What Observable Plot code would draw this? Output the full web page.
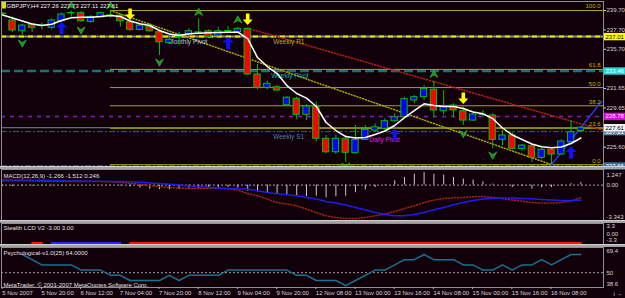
<!DOCTYPE html>
<html><head><meta charset="utf-8">
<script src="https://cdn.jsdelivr.net/npm/d3@7"></script>
<script src="https://cdn.jsdelivr.net/npm/@observablehq/plot@0.6"></script>
<style>
html,body{margin:0;padding:0;background:#110009;}
#chart{position:relative;width:625px;height:298px;background:#110009;overflow:hidden;font-family:"Liberation Sans",Arial,sans-serif;}
.panel{position:absolute;left:0;width:625px;}
.panel svg{display:block;}
.sep{position:absolute;left:0;width:625px;background:#a4a4a4;border-top:1px solid #d0d0d0;box-sizing:border-box;}
</style></head><body>
<div id="chart"></div>
<script>
// ---------------- DATA ----------------
const symbolName = "GBPJPY,H4";
const barOpen  = [239.34,238.67,237.56,238.26,238.12,237.92,238.60,239.40,239.42,238.53,239.01,239.16,239.18,238.49,237.71,238.05,237.46,236.33,236.95,237.15,237.45,237.56,237.09,237.54,237.46,237.81,233.10,231.73,231.79,229.93,230.59,228.94,229.80,226.47,225.08,226.47,224.98,226.36,227.32,227.50,228.28,228.69,230.42,230.76,231.52,229.31,229.90,229.31,228.35,228.92,228.87,226.36,226.81,225.43,225.70,224.51,225.33,224.85,226.12,227.26];
const barHigh  = [239.50,239.01,238.26,238.36,238.39,238.84,239.42,239.63,239.60,239.18,239.52,239.70,239.36,238.67,238.31,238.33,237.64,236.88,237.46,237.81,238.84,237.71,237.92,238.05,237.98,237.87,234.13,232.41,231.93,230.83,230.76,230.00,230.24,226.81,226.81,226.81,227.84,227.84,228.01,228.53,229.04,230.76,230.93,231.96,232.41,231.45,230.08,229.73,229.11,229.39,229.04,227.32,227.15,225.88,225.88,225.50,225.43,226.36,228.35,227.73];
const barLow   = [239.20,237.46,237.02,237.43,237.71,237.71,238.49,239.01,238.49,238.39,238.95,238.95,237.98,237.56,237.59,237.46,235.06,236.19,236.09,237.02,237.22,236.88,236.95,237.30,237.40,233.00,231.52,231.52,231.38,229.87,228.43,228.35,226.12,224.92,224.85,224.05,224.92,226.29,227.15,227.32,228.18,228.53,230.08,230.42,228.63,228.94,228.69,227.84,228.28,228.69,225.43,225.77,225.33,225.19,224.05,224.30,223.81,224.74,225.95,227.11];
const barClose = [239.38,237.64,238.15,237.92,238.15,238.67,239.29,239.44,238.60,239.01,239.42,239.20,238.60,237.71,238.15,237.56,236.43,236.68,237.19,237.56,237.41,236.95,237.56,237.59,237.81,233.10,231.73,232.14,231.45,230.70,228.94,229.80,226.47,225.08,226.47,225.02,226.36,227.39,227.66,228.28,228.69,230.55,230.76,231.62,229.39,229.80,229.39,228.35,228.97,228.96,226.36,226.81,225.43,225.77,224.51,225.33,224.85,226.19,227.15,227.61];
const maValues = [239.24,238.93,238.62,238.31,238.15,238.28,238.67,238.96,239.01,239.01,239.08,239.18,239.08,238.62,238.34,238.15,237.64,237.28,237.12,237.30,237.36,237.40,237.43,237.46,237.46,236.81,234.85,233.92,233.20,231.96,231.14,230.67,229.80,228.15,227.32,226.70,226.55,226.60,226.91,227.27,227.84,228.66,229.38,230.08,229.90,229.80,229.80,229.59,229.23,229.04,228.56,227.58,226.86,226.39,225.93,225.64,225.54,225.62,225.98,226.55];

const macdHist   = [-0.15,-0.15,-0.12,-0.12,-0.10,-0.08,-0.05,-0.03,-0.02,-0.02,-0.03,-0.05,-0.10,-0.20,-0.30,-0.40,-0.45,-0.45,-0.45,-0.40,-0.35,-0.30,-0.30,-0.25,-0.30,-0.60,-0.70,-0.86,-0.93,-1.03,-1.10,-1.15,-1.10,-1.27,-1.17,-1.10,-0.76,-0.48,-0.24,0.05,0.43,0.77,1.10,1.247,1.10,1.00,0.77,0.60,0.50,0.33,0.10,0.00,-0.24,-0.14,-0.41,-0.28,-0.24,-0.10,0.14,0.246];
const macdMain   = [0.43,0.43,0.43,0.42,0.38,0.36,0.36,0.36,0.36,0.36,0.35,0.33,0.28,0.18,0.08,-0.05,-0.15,-0.24,-0.30,-0.34,-0.34,-0.34,-0.34,-0.36,-0.50,-0.85,-1.05,-1.40,-1.74,-1.90,-2.07,-2.40,-2.74,-3.07,-3.24,-3.34,-3.34,-3.24,-3.07,-2.90,-2.64,-2.34,-2.07,-1.74,-1.50,-1.34,-1.27,-1.24,-1.17,-1.14,-1.24,-1.34,-1.50,-1.60,-1.74,-1.80,-1.80,-1.74,-1.57,-1.27];
const macdSignal = [0.50,0.50,0.50,0.49,0.48,0.46,0.44,0.42,0.40,0.39,0.38,0.37,0.35,0.33,0.28,0.22,0.15,0.08,0.00,-0.08,-0.15,-0.22,-0.28,-0.34,-0.36,-0.42,-0.57,-0.74,-0.87,-0.97,-1.07,-1.24,-1.40,-1.64,-1.80,-2.00,-2.24,-2.47,-2.74,-2.94,-3.07,-3.07,-2.94,-2.74,-2.47,-2.24,-1.97,-1.74,-1.54,-1.40,-1.34,-1.30,-1.30,-1.34,-1.37,-1.44,-1.50,-1.54,-1.57,-1.51];
const stealthState = [null,null,null,-1,-1,1,1,1,1,1,1,1,1,-1,-1,-1,-1,-1,-1,-1,-1,-1,-1,-1,-1,-1,-1,-1,-1,-1,-1,-1,-1,-1,-1,-1,-1,-1,-1,-1,-1,-1,-1,-1,-1,-1,-1,-1,-1,-1,-1,-1,-1,-1,-1,-1,-1,-1,-1,-1];
const stealthLevel = -3;
const psychValues = [null,null,64,60,56,56,56,56,52,52,52,48,48,44,44,44,44,48,44,48,48,48,48,52,52,52,52,52,52,52,48,48,44,44,44,40,44,48,52,52,56,60,60,64,60,60,60,56,56,52,52,56,52,56,56,60,56,60,64,64];

const timeLabels = ["5 Nov 2007","5 Nov 20:00","6 Nov 12:00","7 Nov 04:00","7 Nov 20:00","8 Nov 12:00","9 Nov 04:00","9 Nov 20:00","12 Nov 08:00","13 Nov 00:00","13 Nov 16:00","14 Nov 08:00","15 Nov 00:00","15 Nov 16:00","16 Nov 08:00"];
const timeLabelBars = [0,4,8,12,16,20,24,28,32,36,40,44,48,52,56];
const priceTicks = [239.70,237.70,235.70,231.65,229.65,225.60];

const monthlyPivot = 237.01, weeklyR1 = 237.01, weeklyPivot = 233.46, dailyPivot = 228.78;
const bidPrice = 227.61, weeklyS1 = 227.21, weeklyS2 = 223.66;
const fibHigh = 239.70, fibLow = 223.80, fibAnchorBars = [11, 56];
const fibLevels = [0, 23.6, 38.2, 50, 61.8, 100];
const redTrendBars = [25, 61.3], redTrendPrices = [237.87, 227.34];
const blueTrendBars = [56, 61.1], blueTrendPrices = [223.80, 230.31];

const upArrowBars = [6, 23, 40, 58], upArrowPrices = [237.90, 236.35, 226.91, 225.05];
const downArrowBars = [13, 25, 47], downArrowPrices = [239.34, 238.82, 230.67];
const fractalUpBars = [7, 11, 20, 24, 44], fractalUpPrices = [240.22, 240.22, 239.55, 238.77, 233.15];
const fractalDownBars = [2, 8, 16, 35, 47, 50], fractalDownPrices = [236.30, 237.64, 234.34, 223.61, 226.96, 224.74];

const pivotLabelNames = ["Monthly Pivot", "Weekly R1", "Weekly Pivot", "Weekly S1", "Daily Pivot"];
const pivotLabelBars = [16.9, 27.6, 27.4, 27.6, 37.4];
const pivotLabelPrices = [236.50, 236.50, 233.00, 226.70, 226.39];

const titleText = `${symbolName} ${barOpen[59].toFixed(2)} ${barHigh[59].toFixed(2)} ${barLow[59].toFixed(2)} ${barClose[59].toFixed(2)}`;
const macdTitle = "MACD(12,26,9) -1.266 -1.512 0.246";
const stealthTitle = "Stealth LCD V2 -3.00 3.00";
const psychTitle = "Psychological-v1.0(25) 64.0000";
const copyrightText = "MetaTrader, \u00a9 2001-2007 MetaQuotes Software Corp.";

// ---------------- HELPERS ----------------
const xDomain = [-0.122, 61.306];
const FONT = "'Liberation Sans', Arial, sans-serif";
const baseStyle = {background: "transparent", color: "#d8d8d8", fontFamily: FONT, fontSize: "6px", overflow: "visible"};
const series = vals => vals.map((v, i) => ({i, v})).filter(d => d.v != null);
const pts = (bars, prices) => bars.map((b, j) => ({i: b, v: prices[j]}));
const fibPrice = f => fibLow + f / 100 * (fibHigh - fibLow);

const upArrowSym = {draw(c, size) { const s = Math.sqrt(size / Math.PI) / 5;
  c.moveTo(0, -6*s); c.lineTo(5.5*s, -0.5*s); c.lineTo(2*s, -0.5*s); c.lineTo(2*s, 6*s);
  c.lineTo(-2*s, 6*s); c.lineTo(-2*s, -0.5*s); c.lineTo(-5.5*s, -0.5*s); c.closePath(); }};
const downArrowSym = {draw(c, size) { const s = Math.sqrt(size / Math.PI) / 5;
  c.moveTo(0, 6*s); c.lineTo(5*s, 0.5*s); c.lineTo(1.8*s, 0.5*s); c.lineTo(1.8*s, -5.5*s);
  c.lineTo(-1.8*s, -5.5*s); c.lineTo(-1.8*s, 0.5*s); c.lineTo(-5*s, 0.5*s); c.closePath(); }};
const chevUpSym = {draw(c, size) { const s = Math.sqrt(size / Math.PI) / 5;
  c.moveTo(0, -3.8*s); c.lineTo(4*s, 3.5*s); c.lineTo(0, 1*s); c.lineTo(-4*s, 3.5*s); c.closePath(); }};
const chevDownSym = {draw(c, size) { const s = Math.sqrt(size / Math.PI) / 5;
  c.moveTo(0, 3.8*s); c.lineTo(4*s, -3.5*s); c.lineTo(0, -1*s); c.lineTo(-4*s, -3.5*s); c.closePath(); }};
const boxSym = {draw(c) { c.rect(-11, -3.7, 22, 7.4); }};
const iconSym = {draw(c) { c.rect(-2.5, -3.5, 5, 7); }};

function priceBox(v, bg, fg) {
  return [
    Plot.dot([v], {y: d => d, frameAnchor: "right", dx: 11, symbol: boxSym, fill: bg, r: 5}),
    Plot.text([v], {y: d => d, frameAnchor: "right", dx: 2, textAnchor: "start", text: d => d.toFixed(2), fill: fg, fontSize: 6})
  ];
}

const chart = document.getElementById("chart");
function place(el, top) { const d = document.createElement("div"); d.className = "panel"; d.style.top = top + "px"; d.appendChild(el); chart.appendChild(d); }
function sep(top, h) { const d = document.createElement("div"); d.className = "sep"; d.style.top = top + "px"; d.style.height = h + "px"; chart.appendChild(d); }

// ---------------- MAIN PANEL ----------------
const candles = barOpen.map((o, i) => ({i, o, h: barHigh[i], l: barLow[i], c: barClose[i]}));
const candleGreen = "#00c000";
const pivotLabelColors = ["#b0c4de", "#b4b400", "#20b0b0", "#4f7fa8", "#e020e0"];

const main = Plot.plot({
  width: 625, height: 166, marginLeft: 1, marginRight: 22, marginTop: 1, marginBottom: 0,
  style: baseStyle,
  x: {domain: xDomain, axis: null},
  y: {domain: [223.61, 240.63]},
  marks: [
    Plot.ruleY([bidPrice], {stroke: "#778899"}),
    Plot.ruleY([monthlyPivot], {stroke: "#8c8c8c", strokeWidth: 2}),
    Plot.ruleY([weeklyR1], {stroke: "#e6e600", strokeWidth: 2, strokeDasharray: "5,4"}),
    Plot.ruleY([weeklyPivot], {stroke: "#167474", strokeWidth: 2.5, strokeDasharray: "9,4"}),
    Plot.ruleY([dailyPivot], {stroke: "#8a1cb8", strokeWidth: 1.5, strokeDasharray: "4,5"}),
    Plot.ruleY([weeklyS1], {stroke: "#3c5c7e", strokeWidth: 1, strokeDasharray: "6,2,2,2"}),
    Plot.ruleY([weeklyS2], {stroke: "#3c6890", strokeWidth: 1.5, strokeDasharray: "6,2,2,2"}),
    Plot.ruleY(fibLevels, {y: fibPrice, x1: fibAnchorBars[0], x2: xDomain[1], stroke: "#a8a800"}),
    Plot.line(pts(fibAnchorBars, [fibHigh, fibLow]), {x: "i", y: "v", stroke: "#a8a800", strokeDasharray: "1,2"}),
    Plot.line(pts(redTrendBars, redTrendPrices), {x: "i", y: "v", stroke: "#b82010", strokeDasharray: "1,2", clip: true}),
    Plot.line(pts(blueTrendBars, blueTrendPrices), {x: "i", y: "v", stroke: "#2a3cff", strokeDasharray: "1,1", clip: true}),
    Plot.text(fibLevels, {y: fibPrice, text: d => d.toFixed(1), frameAnchor: "right", textAnchor: "end", dx: -3, dy: -4, fill: "#b8b800"}),
    ...pivotLabelNames.map((n, j) => Plot.text([n], {x: pivotLabelBars[j], y: pivotLabelPrices[j], text: d => d, textAnchor: "start", fill: pivotLabelColors[j], fontSize: 6.5})),
    Plot.ruleX(candles, {x: "i", y1: "l", y2: "h", stroke: candleGreen, clip: true}),
    Plot.rect(candles, {x1: d => d.i - 0.32, x2: d => d.i + 0.32, y1: "o", y2: "c",
      fill: d => d.c >= d.o ? "#0000ff" : "#ff0000", stroke: candleGreen, clip: true}),
    Plot.line(series(maValues), {x: "i", y: "v", stroke: "#ffffff", strokeWidth: 1.5, clip: true}),
    Plot.dot(pts(upArrowBars, upArrowPrices), {x: "i", y: "v", symbol: upArrowSym, r: 5, fill: "#1010ff"}),
    Plot.dot(pts(downArrowBars, downArrowPrices), {x: "i", y: "v", symbol: downArrowSym, r: 5, fill: "#ffff00"}),
    Plot.dot(pts(fractalUpBars, fractalUpPrices), {x: "i", y: "v", symbol: chevUpSym, r: 5, fill: "#109a10", stroke: "#50d050", strokeWidth: 0.5}),
    Plot.dot(pts(fractalDownBars, fractalDownPrices), {x: "i", y: "v", symbol: chevDownSym, r: 5, fill: "#109a10", stroke: "#50d050", strokeWidth: 0.5, clip: true}),
    Plot.dot([symbolName], {frameAnchor: "top-left", dx: 2, dy: 3.5, symbol: iconSym, r: 5, fill: "#e0e000"}),
    Plot.text([titleText], {frameAnchor: "top-left", textAnchor: "start", lineAnchor: "top", dx: 5, dy: 2, fill: "#f0f0f0"}),
    Plot.axisY(priceTicks, {anchor: "right", tickSize: 2, tickPadding: 1, tickFormat: d => d.toFixed(2), fontSize: 6, fill: "#d8d8d8", stroke: "#d8d8d8"}),
    ...priceBox(weeklyR1, "#ffff00", "#000000"),
    ...priceBox(weeklyPivot, "#20d8d8", "#ffffff"),
    ...priceBox(dailyPivot, "#e000e0", "#ffffff"),
    ...priceBox(weeklyS1, "#5f7f9f", "#ffffff"),
    ...priceBox(bidPrice, "#f0f0f0", "#000000"),
    ...priceBox(weeklyS2, "#3f6f9a", "#ffffff"),
    Plot.frame({stroke: "#909090"})
  ]
});
place(main, 0);
sep(166, 3);

// ---------------- MACD PANEL ----------------
const macd = Plot.plot({
  width: 625, height: 51, marginLeft: 1, marginRight: 22, marginTop: 0, marginBottom: 0,
  style: baseStyle,
  x: {domain: xDomain, axis: null},
  y: {domain: [-3.54, 1.56], axis: null},
  marks: [
    Plot.ruleY([0], {stroke: "#a0a0a0", strokeDasharray: "2,2"}),
    Plot.ruleX(series(macdHist), {x: "i", y1: 0, y2: "v", stroke: "#c8c8c8", clip: true}),
    Plot.line(series(macdMain), {x: "i", y: "v", stroke: "#a82410", strokeDasharray: "1,2", clip: true}),
    Plot.line(series(macdSignal), {x: "i", y: "v", stroke: "#1c1cf0", clip: true}),
    Plot.text([macdTitle], {frameAnchor: "top-left", textAnchor: "start", lineAnchor: "top", dx: 2, dy: 4, fill: "#e0e0e0"}),
    Plot.text([1.247], {y: d => d, text: d => d.toFixed(3), frameAnchor: "right", textAnchor: "start", dx: 3, dy: 2, fill: "#d8d8d8", fontSize: 6}),
    Plot.text([0], {y: d => d, text: d => d.toFixed(2), frameAnchor: "right", textAnchor: "start", dx: 3, fill: "#d8d8d8", fontSize: 6}),
    Plot.text([-3.343], {y: d => d, text: d => d.toFixed(3), frameAnchor: "right", textAnchor: "start", dx: 3, dy: -1.5, fill: "#d8d8d8", fontSize: 6}),
    Plot.frame({stroke: "#909090"})
  ]
});
place(macd, 169);
sep(220, 3);

// ---------------- STEALTH PANEL ----------------
const stealthPts = [];
let seg = 0, prev = null;
stealthState.forEach((s, i) => { if (s == null) { prev = null; return; } if (s !== prev) seg++; prev = s; stealthPts.push({i, s, seg, v: stealthLevel}); });
const stealth = Plot.plot({
  width: 625, height: 21, marginLeft: 1, marginRight: 22, marginTop: 0, marginBottom: 0,
  style: baseStyle,
  x: {domain: xDomain, axis: null},
  y: {domain: [-3.5, 3.3], axis: null},
  marks: [
    Plot.line(stealthPts.filter(d => d.s < 0), {x: "i", y: "v", z: "seg", stroke: "#ff1010", strokeWidth: 2}),
    Plot.line(stealthPts.filter(d => d.s > 0), {x: "i", y: "v", z: "seg", stroke: "#2a2aff", strokeWidth: 2, strokeDasharray: "1,1"}),
    Plot.text([stealthTitle], {frameAnchor: "top-left", textAnchor: "start", lineAnchor: "top", dx: 2, dy: 2, fill: "#e0e0e0"}),
    Plot.text([3.3], {y: d => d, text: d => d.toFixed(1), frameAnchor: "right", textAnchor: "start", dx: 3, dy: 3, fill: "#d8d8d8", fontSize: 6}),
    Plot.text([0], {y: d => d, text: d => d.toFixed(2), frameAnchor: "right", textAnchor: "start", dx: 3, fill: "#d8d8d8", fontSize: 6}),
    Plot.text([-3.3], {y: d => d, text: d => d.toFixed(1), frameAnchor: "right", textAnchor: "start", dx: 3, dy: -3.4, fill: "#d8d8d8", fontSize: 6}),
    Plot.frame({stroke: "#909090"})
  ]
});
place(stealth, 223);
sep(244, 3);

// ---------------- PSYCHOLOGICAL PANEL + TIME AXIS ----------------
const labelMap = new Map(timeLabelBars.map((b, j) => [b, timeLabels[j]]));
const psych = Plot.plot({
  width: 625, height: 51, marginLeft: 1, marginRight: 22, marginTop: 0, marginBottom: 11,
  style: baseStyle,
  x: {domain: xDomain},
  y: {domain: [38.6, 69.4], axis: null},
  marks: [
    Plot.ruleY([50], {stroke: "#a0a0a0", strokeDasharray: "2,2"}),
    Plot.line(series(psychValues), {x: "i", y: "v", stroke: "#1a7290"}),
    Plot.text([psychTitle], {frameAnchor: "top-left", textAnchor: "start", lineAnchor: "top", dx: 2, dy: 3, fill: "#e0e0e0"}),
    Plot.text([copyrightText], {frameAnchor: "bottom-left", textAnchor: "start", lineAnchor: "bottom", dx: 2, dy: -1, fill: "#e0e0e0"}),
    Plot.text([69.4], {y: d => d, text: d => d.toFixed(1), frameAnchor: "right", textAnchor: "start", dx: 3, dy: 3.5, fill: "#d8d8d8", fontSize: 6}),
    Plot.text([50], {y: d => d, text: d => String(d), frameAnchor: "right", textAnchor: "start", dx: 3, fill: "#d8d8d8", fontSize: 6}),
    Plot.text([38.6], {y: d => d, text: d => d.toFixed(1), frameAnchor: "right", textAnchor: "start", dx: 3, dy: -3, fill: "#d8d8d8", fontSize: 6}),
    Plot.frame({stroke: "#909090"}),
    Plot.axisX(timeLabelBars, {anchor: "bottom", tickSize: 2, tickPadding: 1, tickFormat: d => labelMap.get(d), textAnchor: "start", dx: -0.5, fill: "#d8d8d8", stroke: "#b0b0b0", fontSize: 6})
  ]
});
place(psych, 247);
</script>
</body></html>
